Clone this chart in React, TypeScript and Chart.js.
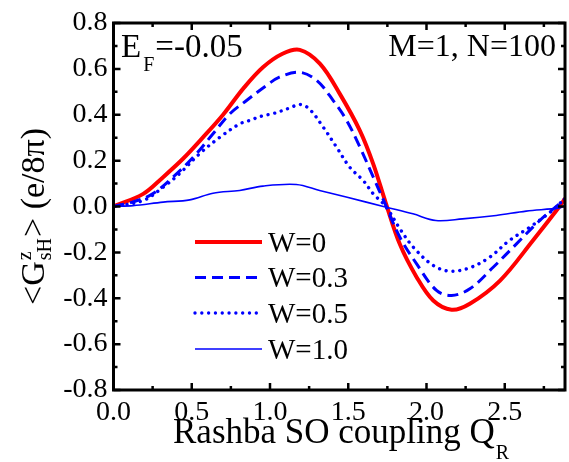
import React, { useEffect, useRef } from "react";
import { Chart, registerables } from "chart.js";
Chart.register(...registerables);

const FONT = "'Liberation Serif', 'Times New Roman', serif";

const xTicks = [0, 0.5, 1.0, 1.5, 2.0, 2.5];
const yTicks = [-0.8, -0.6, -0.4, -0.2, 0.0, 0.2, 0.4, 0.6, 0.8];
const xMin = 0;
const xMax = 2.885;
const yMin = -0.8;
const yMax = 0.8;

const legendLabels = ["W=0", "W=0.3", "W=0.5", "W=1.0"];

const w0X = [0, 0.19, 0.317, 0.444, 0.57, 0.7, 0.83, 0.955, 1.08, 1.19, 1.32, 1.447, 1.575, 1.66, 1.74, 1.83, 1.937, 2.043, 2.16, 2.277, 2.47, 2.68, 2.85, 2.885];
const w0Y = [0, 0.055, 0.128, 0.208, 0.3, 0.4, 0.515, 0.607, 0.666, 0.683, 0.622, 0.49, 0.33, 0.185, 0.015, -0.165, -0.308, -0.41, -0.45, -0.424, -0.323, -0.148, 0.0, 0.035];

const w03X = [0, 0.125, 0.25, 0.38, 0.51, 0.636, 0.743, 0.85, 0.976, 1.06, 1.19, 1.3, 1.404, 1.49, 1.575, 1.66, 1.73, 1.83, 1.937, 2.064, 2.16, 2.277, 2.426, 2.575, 2.724, 2.85, 2.885];
const w03Y = [0, 0.02, 0.055, 0.128, 0.215, 0.317, 0.404, 0.462, 0.527, 0.564, 0.585, 0.549, 0.462, 0.375, 0.258, 0.128, 0.02, -0.134, -0.25, -0.366, -0.388, -0.359, -0.265, -0.163, -0.061, 0.012, 0.035];

const w05X = [0, 0.19, 0.317, 0.42, 0.55, 0.68, 0.806, 0.87, 0.95, 1.02, 1.128, 1.19, 1.25, 1.34, 1.426, 1.51, 1.596, 1.66, 1.74, 1.83, 1.915, 2.043, 2.15, 2.277, 2.404, 2.53, 2.66, 2.79, 2.885];
const w05Y = [0, 0.026, 0.084, 0.142, 0.23, 0.302, 0.36, 0.375, 0.395, 0.405, 0.43, 0.445, 0.426, 0.346, 0.258, 0.171, 0.113, 0.055, 0.0, -0.097, -0.177, -0.257, -0.282, -0.267, -0.221, -0.148, -0.09, -0.025, 0.035];

const w10X = [0, 0.125, 0.317, 0.487, 0.636, 0.806, 0.955, 1.168, 1.317, 1.487, 1.743, 1.913, 2.06, 2.23, 2.445, 2.637, 2.85, 2.885];
const w10Y = [0, 0.004, 0.019, 0.029, 0.058, 0.07, 0.089, 0.096, 0.07, 0.041, -0.003, -0.032, -0.061, -0.054, -0.039, -0.02, -0.006, 0.004];

const pts = (xs: number[], ys: number[]) => xs.map((x, i) => ({ x, y: ys[i] }));

const styles = [
  { color: "#FF0000", width: 4, dash: [] as number[], cap: "butt" },
  { color: "#0000FF", width: 3, dash: [11, 6], cap: "butt" },
  { color: "#0000FF", width: 3.4, dash: [0.01, 6.8], cap: "round" },
  { color: "#0000FF", width: 1.6, dash: [] as number[], cap: "butt" },
];

function minorTicks(major: number[], max: number) {
  const out: number[] = [];
  const step = major[1] - major[0];
  for (let i = 0; i < major.length - 1; i++) out.push((major[i] + major[i + 1]) / 2);
  const last = major[major.length - 1] + step / 2;
  if (last <= max + 1e-9) out.push(last);
  return out;
}

const decorPlugin = {
  id: "decor",
  afterDraw(chart: any) {
    const ctx = chart.ctx as CanvasRenderingContext2D;
    const ca = chart.chartArea;
    const xs = chart.scales.x;
    const ys = chart.scales.y;
    ctx.save();
    ctx.strokeStyle = "#000";
    ctx.lineWidth = 3;
    ctx.strokeRect(ca.left, ca.top, ca.right - ca.left, ca.bottom - ca.top);
    ctx.lineWidth = 2.5;
    ctx.lineCap = "butt";
    const drawX = (v: number, len: number) => {
      const p = xs.getPixelForValue(v);
      ctx.beginPath();
      ctx.moveTo(p, ca.bottom);
      ctx.lineTo(p, ca.bottom - len);
      ctx.moveTo(p, ca.top);
      ctx.lineTo(p, ca.top + len);
      ctx.stroke();
    };
    const drawY = (v: number, len: number) => {
      const p = ys.getPixelForValue(v);
      ctx.beginPath();
      ctx.moveTo(ca.left, p);
      ctx.lineTo(ca.left + len, p);
      ctx.moveTo(ca.right, p);
      ctx.lineTo(ca.right - len, p);
      ctx.stroke();
    };
    xTicks.forEach((v) => drawX(v, 7));
    minorTicks(xTicks, xMax).forEach((v) => drawX(v, 4));
    yTicks.forEach((v) => drawY(v, 7));
    minorTicks(yTicks, yMax).forEach((v) => drawY(v, 4));

    const legendY = [242, 277.5, 313, 349];
    legendLabels.forEach((lab, i) => {
      const s = styles[i];
      ctx.beginPath();
      ctx.strokeStyle = s.color;
      ctx.lineWidth = s.width;
      ctx.setLineDash(s.dash);
      ctx.lineCap = s.cap as CanvasLineCap;
      ctx.moveTo(195, legendY[i]);
      ctx.lineTo(262, legendY[i]);
      ctx.stroke();
      ctx.setLineDash([]);
      ctx.fillStyle = "#000";
      ctx.font = `29px ${FONT}`;
      ctx.textBaseline = "alphabetic";
      ctx.textAlign = "left";
      ctx.fillText(lab, 268, legendY[i] + 9.8);
    });

    ctx.fillStyle = "#000";
    ctx.textAlign = "left";
    ctx.textBaseline = "alphabetic";
    ctx.font = `33px ${FONT}`;
    ctx.fillText("E", 121, 56.5);
    let cx = 121 + ctx.measureText("E").width;
    ctx.font = `20px ${FONT}`;
    ctx.fillText("F", cx + 2, 71);
    cx += 2 + ctx.measureText("F").width + 1;
    ctx.font = `33px ${FONT}`;
    ctx.fillText("=-0.05", cx, 56.5);
    ctx.textAlign = "right";
    ctx.font = `32px ${FONT}`;
    ctx.fillText("M=1, N=100", 556, 55.5);

    ctx.textAlign = "left";
    ctx.font = `35px ${FONT}`;
    const xt = "Rashba SO coupling Q";
    ctx.fillText(xt, 173, 443);
    const xtw = ctx.measureText(xt).width;
    ctx.font = `20px ${FONT}`;
    ctx.fillText("R", 173 + xtw + 1, 459);

    ctx.translate(44, 305);
    ctx.rotate(-Math.PI / 2);
    ctx.font = `34px ${FONT}`;
    let u = 0;
    ctx.fillText("<G", u, 0);
    u += ctx.measureText("<G").width;
    ctx.font = `20px ${FONT}`;
    ctx.fillText("z", u + 1, -13);
    ctx.fillText("sH", u + 1, 7);
    u += Math.max(ctx.measureText("z").width, ctx.measureText("sH").width) + 2;
    ctx.font = `34px ${FONT}`;
    ctx.fillText("> (e/8\u03C0)", u, 0);
    ctx.restore();
  },
};

export default function App() {
  const ref = useRef<HTMLCanvasElement | null>(null);
  useEffect(() => {
    if (!ref.current) return;
    const data = [pts(w0X, w0Y), pts(w03X, w03Y), pts(w05X, w05Y), pts(w10X, w10Y)];
    const chart = new Chart(ref.current, {
      type: "line",
      data: {
        datasets: data.map((d, i) => ({
          label: legendLabels[i],
          data: d,
          borderColor: styles[i].color,
          backgroundColor: styles[i].color,
          borderWidth: styles[i].width,
          borderDash: styles[i].dash,
          borderCapStyle: styles[i].cap as CanvasLineCap,
          pointRadius: 0,
          fill: false,
          tension: 0.35,
          order: 4 - i,
        })),
      },
      options: {
        responsive: false,
        animation: false,
        layout: { padding: { top: 23, right: 4, left: 0, bottom: 0 } },
        plugins: { legend: { display: false }, tooltip: { enabled: false } },
        scales: {
          x: {
            type: "linear",
            min: xMin,
            max: xMax,
            grid: { display: false, drawTicks: false },
            border: { display: false },
            ticks: {
              padding: 6,
              color: "#000",
              font: { family: FONT, size: 28 },
              maxRotation: 0,
              autoSkip: false,
              callback: (v: any) => Number(v).toFixed(1),
            },
            afterBuildTicks: (s: any) => {
              s.ticks = xTicks.map((v) => ({ value: v }));
            },
            afterFit: (s: any) => {
              s.height = 72;
            },
          },
          y: {
            type: "linear",
            min: yMin,
            max: yMax,
            grid: { display: false, drawTicks: false },
            border: { display: false },
            ticks: {
              padding: 6,
              color: "#000",
              font: { family: FONT, size: 28 },
              autoSkip: false,
              callback: (v: any) => Number(v).toFixed(1),
            },
            afterBuildTicks: (s: any) => {
              s.ticks = yTicks.map((v) => ({ value: v }));
            },
            afterFit: (s: any) => {
              s.width = 113.5;
            },
          },
        },
      },
      plugins: [decorPlugin],
    });
    return () => chart.destroy();
  }, []);
  return (
    <div style={{ position: "absolute", left: 0, top: 0, width: 569, height: 462 }}>
      <canvas ref={ref} width={569} height={462} />
    </div>
  );
}
